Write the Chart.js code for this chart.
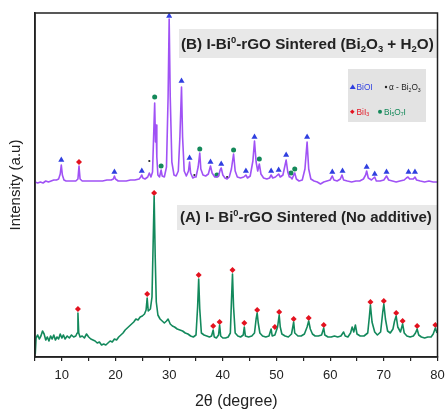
<!DOCTYPE html>
<html>
<head>
<meta charset="utf-8">
<script src="https://cdn.jsdelivr.net/npm/chart.js@4"></script>
<style>
  html, body { margin: 0; padding: 0; background: #fff; }
  #wrap { width: 446px; height: 410px; }
</style>
</head>
<body>
<div id="wrap"><canvas id="xrd"></canvas></div>
<script>
// ---- data (2theta in degrees, intensity in arbitrary units) ----

const xTicks = [10, 20, 30, 40, 50, 60, 70, 80];

// (A) sintered, no additive
const patternA = [
  [5.05,3],[5.2,19],[5.5,22],[5.8,18],[6.1,21],[6.4,26],[6.7,23],[7.0,17],[7.3,20],[7.6,16],
  [7.9,21],[8.2,18],[8.5,22],[8.8,17],[9.1,20],[9.4,18],[9.7,23],[10.0,19],[10.3,22],[10.6,18],
  [11.0,21],[11.4,19],[11.8,22],[12.2,20],[12.6,21],[12.85,24],[13.0,44],[13.15,24],[13.4,20],
  [13.8,21],[14.2,19],[14.6,23],[15.0,20],[15.4,18],[15.8,17],[16.2,16],[16.6,14],[17.0,15],
  [17.4,12],[17.8,13],[18.2,12],[18.6,14],[19.0,16],[19.4,15],[19.8,18],[20.2,17],[20.6,20],
  [21.0,22],[21.4,24],[21.8,27],[22.2,29],[22.6,31],[23.0,33],[23.4,35],[23.8,38],[24.2,37],
  [24.6,40],[25.0,41],[25.4,43],[25.7,47],[25.9,59],[26.1,46],[26.5,48],[26.8,60],[27.0,110],
  [27.2,161],[27.4,100],[27.6,55],[27.9,42],[28.3,38],[28.7,36],[29.1,34],[29.5,36],[29.8,38],
  [30.2,33],[30.6,31],[31.0,30],[31.5,28],[32.0,27],[32.5,26],[33.0,24],[33.5,23],[34.0,21],
  [34.5,20],[35.0,22],[35.3,50],[35.5,78],[35.7,48],[36.0,24],[36.5,22],[37.0,21],[37.5,20],
  [37.9,21],[38.2,27],[38.4,20],[38.8,19],[39.2,22],[39.4,32],[39.6,21],[40.0,19],[40.5,19],
  [41.0,20],[41.4,24],[41.6,55],[41.8,83],[42.0,50],[42.3,24],[42.8,21],[43.3,20],[43.8,22],
  [44.0,30],[44.2,21],[44.8,20],[45.4,21],[45.9,24],[46.2,38],[46.4,44],[46.6,34],[46.9,24],
  [47.4,21],[48.0,20],[48.6,21],[49.0,28],[49.2,21],[49.7,22],[50.2,30],[50.5,42],[50.7,30],
  [51.0,23],[51.6,21],[52.2,20],[52.8,23],[53.2,35],[53.4,24],[54.0,21],[54.6,21],[55.2,23],
  [55.7,30],[56.0,36],[56.3,28],[56.7,23],[57.2,21],[57.8,21],[58.4,22],[58.8,29],[59.0,22],
  [59.6,20],[60.2,20],[60.8,21],[61.4,20],[62.0,21],[62.5,25],[62.8,21],[63.3,20],[63.8,24],
  [64.1,30],[64.4,25],[64.7,32],[65.0,23],[65.6,21],[66.3,21],[67.0,24],[67.3,40],[67.5,52],
  [67.8,35],[68.3,25],[68.8,22],[69.4,25],[69.8,45],[70.0,53],[70.3,38],[70.7,26],[71.2,24],
  [71.7,28],[72.0,36],[72.3,41],[72.6,30],[73.1,25],[73.5,33],[73.8,24],[74.3,21],[74.9,20],
  [75.5,21],[75.9,24],[76.2,28],[76.5,22],[77.0,20],[77.6,19],[78.2,20],[78.8,20],[79.2,23],
  [79.6,29],[79.9,24]
];

// (B) sintered with Bi2O3 + H2O
const patternB = [
  [5.0,175],[5.5,174],[6.0,175],[6.5,174],[7.0,176],[7.5,175],[8.0,176],[8.5,177],[9.0,177],
  [9.4,178],[9.7,183],[9.9,192],[10.1,182],[10.4,177],[10.8,176],[11.4,176],[12.0,176],[12.6,176],
  [13.0,178],[13.2,191],[13.4,178],[13.8,176],[14.5,176],[15.2,176],[16.0,176],[16.8,176],
  [17.6,176],[18.4,177],[19.2,177],[19.6,178],[19.8,181],[20.0,178],[20.5,176],[21.2,176],
  [22.0,176],[22.8,177],[23.6,177],[24.4,178],[24.7,180],[24.9,182],[25.1,179],[25.5,178],
  [26.0,180],[26.3,184],[26.6,180],[26.9,185],[27.1,220],[27.3,254],[27.45,215],[27.55,232],
  [27.7,200],[27.9,182],[28.2,180],[28.5,187],[28.7,181],[29.1,180],[29.5,190],[29.8,260],
  [30.0,338],[30.2,260],[30.5,195],[30.9,182],[31.3,181],[31.7,186],[32.0,220],[32.3,270],
  [32.5,220],[32.8,186],[33.2,181],[33.6,186],[33.8,195],[34.0,184],[34.4,179],[34.7,180],
  [35.0,180],[35.4,190],[35.7,204],[35.9,188],[36.3,182],[36.8,181],[37.3,183],[37.7,191],
  [38.0,184],[38.5,180],[38.9,180],[39.2,181],[39.5,187],[39.7,189],[40.0,182],[40.4,179],
  [40.8,178],[41.2,180],[41.6,188],[42.0,203],[42.3,186],[42.7,180],[43.3,179],[43.9,180],
  [44.3,182],[44.6,179],[45.1,181],[45.6,196],[45.9,216],[46.2,195],[46.5,186],[46.8,193],
  [47.1,183],[47.6,179],[48.2,178],[48.7,179],[49.0,182],[49.3,179],[49.8,180],[50.2,182],
  [50.4,183],[50.7,180],[51.2,182],[51.6,192],[51.8,197],[52.1,185],[52.4,180],[52.6,180],
  [52.9,178],[53.2,182],[53.4,184],[53.7,178],[54.2,176],[54.8,177],[55.3,188],[55.7,215],
  [56.0,188],[56.4,178],[57.0,176],[57.6,175],[58.2,173],[58.8,175],[59.4,176],[60.0,177],
  [60.4,181],[60.7,177],[61.3,176],[61.9,178],[62.2,182],[62.5,177],[63.2,176],[64.0,175],
  [64.8,176],[65.5,176],[66.2,178],[66.6,182],[66.8,186],[67.1,179],[67.7,177],[68.3,180],
  [68.6,176],[69.3,176],[70.0,177],[70.5,181],[70.9,177],[71.6,176],[72.3,175],[73.0,176],
  [73.8,177],[74.2,179],[74.5,180],[74.8,178],[75.5,178],[75.8,180],[76.1,177],[76.8,176],
  [77.6,175],[78.4,176],[79.2,175],[80.0,175]
];

// phase markers
const biiA = [
  [13.0,48],[25.9,63],[27.2,164],[35.5,82],[38.2,31],[39.4,35],[41.8,87],[44.0,34],[46.4,47],
  [49.7,30],[50.5,45],[53.2,38],[56.0,39],[58.8,32],[67.5,55],[70.0,56],[72.3,44],[73.5,36],
  [76.2,31],[79.6,32]
];
const bioiB = [
  [9.9,197],[19.8,185],[24.9,186],[30.0,341],[32.3,276],[33.8,199],[37.7,195],[39.7,193],
  [44.3,186],[45.9,220],[49.0,186],[50.4,187],[51.8,202],[55.7,220],[60.4,185],[62.3,186],
  [66.8,190],[68.3,183],[70.5,185],[74.6,185],[75.8,185]
];
const biiB = [[13.2,195]];
const bi5o7iB = [
  [27.3,260],[28.5,191],[35.7,208],[38.9,182],[42.0,207],[46.8,198],[52.7,184],[53.4,188]
];
const bi2o3B = [[26.3,196],[34.7,182],[40.8,180]];

// ---- colours ----
const purple = '#a052f5';
const green = '#13895c';
const blue = '#2f3fe0';
const red = '#e3121f';
const dotGreen = '#14895a';
const ink = '#222';

const toPts = arr => arr.map(p => ({ x: p[0], y: p[1] }));

function line(data, color) {
  return {
    data: toPts(data), showLine: true, borderColor: color, borderWidth: 1.6,
    pointRadius: 0, tension: 0, borderJoinStyle: 'round'
  };
}
function marks(data, color, style, r) {
  return {
    data: toPts(data), showLine: false, pointStyle: style, pointRadius: r,
    backgroundColor: color, borderColor: color, borderWidth: 0
  };
}

// draws text made of runs: [text, 'n' | 'sub' | 'sup']
function richWidth(ctx, parts, size, weight) {
  let w = 0;
  parts.forEach(([t, k]) => {
    const s = k === 'n' ? size : size * 0.62;
    ctx.font = `${weight} ${s}px "Liberation Sans", Arial, sans-serif`;
    w += ctx.measureText(t).width;
  });
  return w;
}
function drawRich(ctx, parts, x, y, size, weight, color) {
  ctx.fillStyle = color;
  ctx.textBaseline = 'alphabetic';
  ctx.textAlign = 'left';
  parts.forEach(([t, k]) => {
    const s = k === 'n' ? size : size * 0.62;
    ctx.font = `${weight} ${s}px "Liberation Sans", Arial, sans-serif`;
    const dy = k === 'sub' ? size * 0.22 : k === 'sup' ? -size * 0.42 : 0;
    ctx.fillText(t, x, y + dy);
    x += ctx.measureText(t).width;
  });
}
// fit a label into a target width
function fitSize(ctx, parts, target, weight) {
  let s = 16;
  while (s > 6 && richWidth(ctx, parts, s, weight) > target) s -= 0.25;
  return s;
}

const labelB = [['(B) I-Bi', 'n'], ['0', 'sup'], ['-rGO Sintered (Bi', 'n'], ['2', 'sub'],
  ['O', 'n'], ['3', 'sub'], [' + H', 'n'], ['2', 'sub'], ['O)', 'n']];
const labelA = [['(A) I- Bi', 'n'], ['0', 'sup'], ['-rGO Sintered (No additive)', 'n']];

const decor = {
  id: 'decor',
  beforeDatasetsDraw(chart) {
    const ctx = chart.ctx;
    ctx.save();
    ctx.fillStyle = '#e8e8e8';
    ctx.fillRect(179, 29, 258, 29);
    ctx.fillRect(177, 205, 260, 25);
    ctx.fillStyle = '#e3e3e3';
    ctx.fillRect(348, 69, 78, 53);

    let s = fitSize(ctx, labelB, 253, 'bold');
    drawRich(ctx, labelB, 181, 49, s, 'bold', ink);
    s = fitSize(ctx, labelA, 252, 'bold');
    drawRich(ctx, labelA, 180, 222, s, 'bold', ink);

    // legend
    const f = 8.3;
    ctx.fillStyle = blue;
    ctx.beginPath(); ctx.moveTo(352.7, 84.3); ctx.lineTo(355.7, 89); ctx.lineTo(349.7, 89); ctx.fill();
    drawRich(ctx, [['BiOI', 'n']], 356.5, 90, f, 'normal', blue);
    ctx.fillStyle = ink;
    ctx.beginPath(); ctx.arc(386, 87, 1.2, 0, Math.PI * 2); ctx.fill();
    drawRich(ctx, [['\u03b1 - Bi', 'n'], ['2', 'sub'], ['O', 'n'], ['3', 'sub']], 389, 90, f, 'normal', ink);
    ctx.fillStyle = red;
    ctx.beginPath(); ctx.moveTo(352.3, 109.4); ctx.lineTo(354.6, 111.7); ctx.lineTo(352.3, 114); ctx.lineTo(350, 111.7); ctx.fill();
    drawRich(ctx, [['BiI', 'n'], ['3', 'sub']], 356.5, 114.5, f, 'normal', red);
    ctx.fillStyle = dotGreen;
    ctx.beginPath(); ctx.arc(380, 111.7, 2, 0, Math.PI * 2); ctx.fill();
    drawRich(ctx, [['Bi', 'n'], ['5', 'sub'], ['O', 'n'], ['7', 'sub'], ['I', 'n']], 384, 114.5, f, 'normal', dotGreen);
    ctx.restore();
  },
  afterDraw(chart) {
    const { ctx, chartArea: a } = chart;
    ctx.save();
    ctx.strokeStyle = ink;
    ctx.lineWidth = 1.5;
    ctx.strokeRect(a.left, a.top, a.right - a.left, a.bottom - a.top);
    ctx.restore();
  }
};

new Chart(document.getElementById('xrd'), {
  type: 'scatter',
  data: {
    datasets: [
      line(patternB, purple),
      line(patternA, green),
      marks(biiA, red, 'rectRot', 3),
      marks(bioiB, blue, 'triangle', 3.5),
      marks(biiB, red, 'rectRot', 3),
      marks(bi5o7iB, dotGreen, 'circle', 2.5),
      marks(bi2o3B, ink, 'circle', 1.1)
    ]
  },
  options: {
    responsive: true,
    maintainAspectRatio: false,
    animation: false,
    layout: { padding: { top: 13, right: 8.5, left: 0, bottom: 0 } },
    plugins: { legend: { display: false }, tooltip: { enabled: false } },
    scales: {
      x: {
        type: 'linear', min: 5, max: 80,
        afterFit: s => { s.height = 53; s.paddingLeft = 0; s.paddingRight = 0; },
        afterBuildTicks: s => { s.ticks = [5, 10, 15, 20, 25, 30, 35, 40, 45, 50, 55, 60, 65, 70, 75, 80].map(v => ({ value: v })); },
        ticks: {
          autoSkip: false, maxRotation: 0, padding: 7, color: ink,
          font: { size: 13, family: '"Liberation Sans", Arial, sans-serif' },
          callback: v => xTicks.includes(v) ? String(v) : ''
        },
        grid: { drawOnChartArea: false, drawTicks: true, tickLength: 4, color: ink, lineWidth: 1.2 },
        border: { display: true, color: ink, width: 1.5 },
        title: {
          display: true, text: '2\u03b8 (degree)', color: ink,
          font: { size: 16, family: '"Liberation Sans", Arial, sans-serif', lineHeight: 1 },
          padding: { top: 0, bottom: 0 }
        }
      },
      y: {
        min: 0, max: 344,
        afterFit: s => { s.width = 35; s.paddingTop = 0; s.paddingBottom = 0; },
        ticks: { display: false },
        grid: { display: false, drawTicks: false },
        border: { display: true, color: ink, width: 1.5 },
        title: {
          display: true, text: 'Intensity (a.u)', color: ink,
          font: { size: 15, family: '"Liberation Sans", Arial, sans-serif', lineHeight: 1.2 },
          padding: { top: 7, bottom: 0 }
        }
      }
    }
  },
  plugins: [decor]
});
</script>
</body>
</html>
